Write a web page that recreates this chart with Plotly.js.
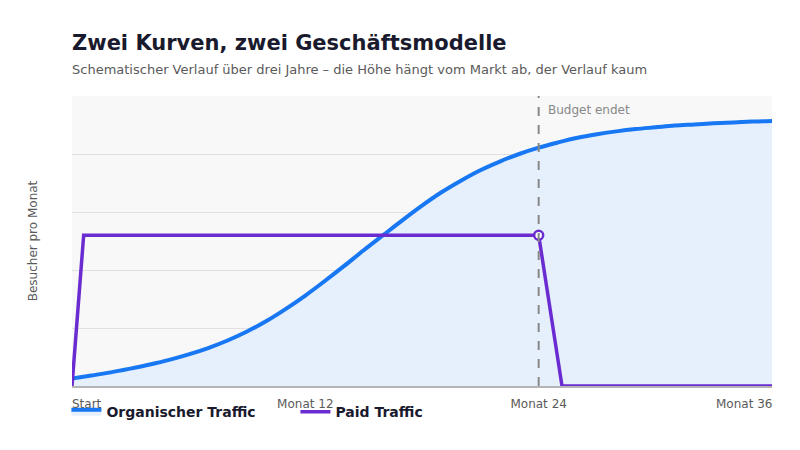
<!DOCTYPE html>
<html>
<head>
<meta charset="utf-8">
<script src="https://cdn.plot.ly/plotly-3.0.1.min.js"></script>
<style>
  html, body { margin: 0; padding: 0; background: #ffffff; }
  #chart { width: 800px; height: 450px; }
</style>
</head>
<body>
<div id="chart"></div>
<script>
const months = [0, 1, 2, 3, 4, 5, 6, 7, 8, 9, 10, 11, 12, 13, 14, 15, 16, 17, 18,
  19, 20, 21, 22, 23, 24, 25, 26, 27, 28, 29, 30, 31, 32, 33, 34, 35, 36];

const organicVals = [0.13, 0.18, 0.235, 0.30, 0.37, 0.45, 0.545, 0.655, 0.785, 0.94,
  1.12, 1.33, 1.56, 1.81, 2.07, 2.34, 2.60, 2.86, 3.11, 3.34, 3.54, 3.72, 3.87,
  4.00, 4.11, 4.20, 4.28, 4.34, 4.39, 4.43, 4.46, 4.49, 4.51, 4.53, 4.545, 4.56, 4.57];

const paidMonths = [0, 0.6, 24, 25.2, 36];
const paidVals = [0, 2.6, 2.6, 0, 0];

const budgetEnd = 24;
const tickVals = [12, 24];
const tickText = ["Monat 12", "Monat 24"];
const edgeLabels = [
  { x: 0, text: "Start", anchor: "left", shift: -2 },
  { x: 36, text: "Monat 36", anchor: "right", shift: 2 }
];

const BLUE = "#1877f2";
const PURPLE = "#6a2bd1";
const FONT = "DejaVu Sans, sans-serif";

const traces = [
  {
    x: months,
    y: organicVals,
    type: "scatter",
    mode: "lines",
    name: "Organischer Traffic",
    line: { color: BLUE, width: 4, shape: "spline", smoothing: 1 },
    fill: "tozeroy",
    fillcolor: "#e6f0fd"
  },
  {
    x: paidMonths,
    y: paidVals,
    type: "scatter",
    mode: "lines",
    name: "Paid Traffic",
    line: { color: PURPLE, width: 3.5 }
  },
  {
    x: [budgetEnd],
    y: [paidVals[2]],
    type: "scatter",
    mode: "markers",
    showlegend: false,
    hoverinfo: "skip",
    marker: { color: "#ffffff", size: 9, line: { color: PURPLE, width: 2.5 } }
  }
];

const annotations = [
  {
    xref: "paper", yref: "paper",
    x: 0, y: 1.09, xanchor: "left", yanchor: "middle", xshift: -2,
    text: "Schematischer Verlauf über drei Jahre – die Höhe hängt vom Markt ab, der Verlauf kaum",
    showarrow: false,
    font: { family: FONT, size: 13, color: "#5a5a5a" }
  },
  {
    xref: "x", yref: "paper",
    x: budgetEnd, y: 0.995, xanchor: "left", yanchor: "top", xshift: 7, yshift: -4,
    text: "Budget endet",
    showarrow: false,
    font: { family: FONT, size: 12, color: "#888888" }
  }
];

edgeLabels.forEach(lbl => {
  annotations.push({
    xref: "x", yref: "paper",
    x: lbl.x, y: 0, xanchor: lbl.anchor, yanchor: "top", yshift: -9, xshift: lbl.shift,
    text: lbl.text,
    showarrow: false,
    font: { family: FONT, size: 12, color: "#5a5a5a" }
  });
});

const layout = {
  width: 800,
  height: 450,
  paper_bgcolor: "#ffffff",
  plot_bgcolor: "#f8f8f8",
  font: { family: FONT, color: "#5a5a5a" },
  margin: { l: 72, r: 28, t: 96, b: 64 },
  title: {
    text: "Zwei Kurven, zwei Geschäftsmodelle",
    x: 0.09, xanchor: "left",
    y: 0.905, yanchor: "middle",
    font: { family: FONT, size: 21, color: "#1a1a2e", weight: "bold" }
  },
  showlegend: true,
  legend: {
    orientation: "h",
    x: -0.008, xanchor: "left",
    y: -0.035, yanchor: "top",
    entrywidth: 184,
    entrywidthmode: "pixels",
    font: { family: FONT, size: 14, color: "#1a1a2e", weight: "bold" },
    bgcolor: "rgba(0,0,0,0)"
  },
  xaxis: {
    range: [0, 36],
    tickmode: "array",
    tickvals: tickVals,
    ticktext: tickText,
    ticks: "outside",
    ticklen: 6,
    tickcolor: "rgba(0,0,0,0)",
    showgrid: false,
    zeroline: false,
    showline: true,
    linecolor: "#b5b5b5",
    linewidth: 2,
    tickfont: { family: FONT, size: 12, color: "#5a5a5a" },
    fixedrange: true
  },
  yaxis: {
    range: [0, 5],
    dtick: 1,
    showticklabels: false,
    ticks: "",
    showgrid: true,
    gridcolor: "#e0e0e0",
    zeroline: false,
    title: {
      text: "Besucher pro Monat",
      standoff: 30,
      font: { family: FONT, size: 12, color: "#5a5a5a" }
    },
    fixedrange: true
  },
  shapes: [
    {
      type: "line",
      xref: "x", yref: "paper",
      x0: budgetEnd, x1: budgetEnd, y0: 0, y1: 1,
      line: { color: "#888888", width: 2, dash: "dash" }
    }
  ],
  annotations: annotations
};

Plotly.newPlot("chart", traces, layout, { displayModeBar: false, staticPlot: true });
</script>
</body>
</html>
